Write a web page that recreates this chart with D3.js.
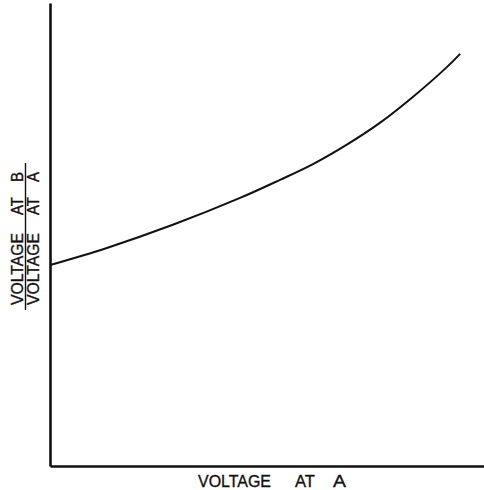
<!DOCTYPE html>
<html>
<head>
<meta charset="utf-8">
<script src="https://cdn.jsdelivr.net/npm/d3@7"></script>
<style>
  html, body { margin: 0; padding: 0; background: #fff; }
  svg { display: block; }
  text { font-family: "Liberation Sans", Arial, sans-serif; fill: #111; stroke: #111; stroke-width: 0.35; }
</style>
</head>
<body>
<script>
// Curve: voltage at A (x) vs ratio (y), in relative units (0-100)
const voltageA = [0, 13.1, 28.3, 43.8, 53.0, 60.6, 68.4, 76.0, 83.6, 91.5, 94.5];
const ratioBA  = [43.4, 47.1, 52.1, 57.9, 61.8, 65.2, 69.4, 74.1, 79.7, 86.2, 89.0];
const xLabelWords = ["VOLTAGE", "AT", "A"];
const yNumWords = ["VOLTAGE", "AT", "B"];
const yDenWords = ["VOLTAGE", "AT", "A"];

const W = 484, H = 490;
const svg = d3.select("body").append("svg").attr("width", W).attr("height", H);

const x = d3.scaleLinear().domain([0, 100]).range([50, 484]);
const y = d3.scaleLinear().domain([0, 100]).range([466, 3]);

// Axes (plain lines, no ticks)
svg.append("g").attr("transform", `translate(0,${y(0)})`)
  .call(d3.axisBottom(x).ticks(0).tickSizeOuter(0))
  .call(g => g.select(".domain").attr("stroke", "#111").attr("stroke-width", 2.6));
svg.append("g").attr("transform", `translate(${x(0)},0)`)
  .call(d3.axisLeft(y).ticks(0).tickSizeOuter(0))
  .call(g => g.select(".domain").attr("stroke", "#111").attr("stroke-width", 2.6));

// Curve
const pts = voltageA.map((v, i) => [v, ratioBA[i]]);
svg.append("path")
  .datum(pts)
  .attr("fill", "none")
  .attr("stroke", "#111")
  .attr("stroke-width", 2)
  .attr("d", d3.line().x(d => x(d[0])).y(d => y(d[1])).curve(d3.curveCatmullRom.alpha(0.5)));

// X label
const xWordPos = [198, 295, 333];
const xWordLen = [73, 20, 13];
xLabelWords.forEach((w, i) => {
  svg.append("text").attr("x", xWordPos[i]).attr("y", 487)
    .attr("font-size", 16.5)
    .attr("textLength", xWordLen[i]).attr("lengthAdjust", "spacingAndGlyphs")
    .text(w);
});

// Y label (fraction)
const yWordStart = [305, 215, 182];
const yWordLen = [72, 18, 10];
function rotWord(w, bx, sy, len) {
  svg.append("text")
    .attr("transform", `translate(${bx},${sy}) rotate(-90)`)
    .attr("font-size", 16)
    .attr("textLength", len).attr("lengthAdjust", "spacingAndGlyphs")
    .text(w);
}
yNumWords.forEach((w, i) => rotWord(w, 23, yWordStart[i], yWordLen[i]));
yDenWords.forEach((w, i) => rotWord(w, 39, yWordStart[i], yWordLen[i]));
svg.append("line").attr("x1", 25.5).attr("x2", 25.5).attr("y1", 163).attr("y2", 310)
  .attr("stroke", "#111").attr("stroke-width", 1.4);
</script>
</body>
</html>
